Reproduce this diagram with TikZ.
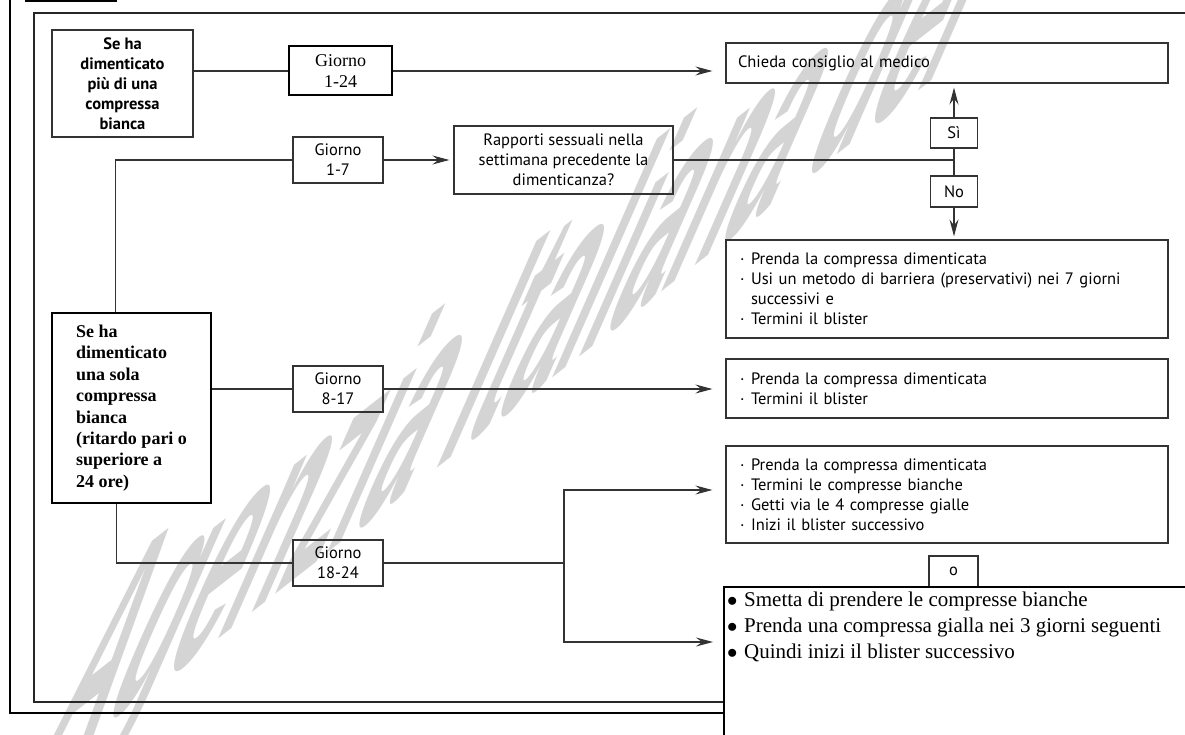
\documentclass[tikz,border=0pt]{standalone}
\usepackage{fontspec}
\setmainfont{Liberation Serif}
\setsansfont{PT Sans}
\newfontfamily\wmfont{Liberation Sans}
\usetikzlibrary{arrows.meta}

\newcommand{\bul}{\hspace{2pt}\makebox[11pt][l]{·}}
\newcommand{\bigbul}{\makebox[17pt][l]{$\bullet$}}

\tikzset{
  ln/.style={draw=black!80, line width=1.2pt},
  arr/.style={ln, -{Stealth[length=17pt,width=9pt,inset=6pt]}},
  sbox/.style={draw=black!80, line width=1.2pt, inner sep=0pt, align=center,
    font=\sffamily\fontsize{16.5}{20}\selectfont},
  lbox/.style={sbox, align=left, text width=418pt, inner xsep=12pt},
  gbox/.style={sbox, minimum width=90pt, minimum height=46pt},
  tbox/.style={draw=black, line width=2pt, inner sep=0pt, align=center,
    font=\rmfamily\fontsize{18}{21.5}\selectfont}
}

\begin{document}
\begin{tikzpicture}[x=1pt,y=-1pt]
  \useasboundingbox (0,0) rectangle (1185,735);
  \clip (0,0) rectangle (1185,735);
  \begin{scope}[cm={0.985,0.77,1.45,3.3,(25,790)}]
    \node[anchor=base west, inner sep=0pt, transform shape, text=black!17,
      font=\wmfont\bfseries\fontsize{100}{100}\selectfont] (wm) {Agenzia Italiana del}; % watermark
  \end{scope}
  \draw[line width=2pt] (25,1) -- (117,1); % title underline
  \draw[line width=2pt] (10,-5) -- (10,713) -- (724,713); % outer frame
  \draw[line width=2.5pt, black!85] (1190,13) -- (34,13) -- (34,702) -- (724,702); % inner frame

  \node[sbox, font=\sffamily\bfseries\fontsize{16.5}{20}\selectfont, minimum width=141pt,
    minimum height=107pt] (more) at (122.5,83.5) {Se ha\\dimenticato\\più di una\\compressa\\bianca};
  \node[tbox, minimum width=103pt, minimum height=49pt] (g124) at (340.5,71) {Giorno\\1-24};
  \node[lbox, minimum height=40pt] (chieda) at (947,63) {Chieda consiglio al medico};
  \node[gbox] (g17) at (338,160) {Giorno\\1-7};
  \node[sbox, minimum width=219pt, minimum height=68pt] (quest) at (563.5,160)
    {Rapporti sessuali nella\\settimana precedente la\\dimenticanza?};
  \node[sbox, minimum width=47pt, minimum height=30pt] (si) at (954,133) {Sì};
  \node[sbox, minimum width=47pt, minimum height=31pt] (no) at (954,191.5) {No};
  \node[lbox, minimum height=98pt] (list1) at (947,289)
    {\bul Prenda la compressa dimenticata\\\bul Usi un metodo di barriera (preservativi) nei 7 giorni\\\hspace*{13pt}successivi e\\\bul Termini il blister};

  \node[tbox, font=\rmfamily\bfseries\fontsize{18}{21.4}\selectfont, align=left,
    minimum width=159pt, minimum height=190pt] (one) at (131.5,408)
    {Se ha\\dimenticato\\una sola\\compressa\\bianca\\(ritardo pari o\\superiore a\\24 ore)};
  \node[gbox] (g817) at (338,389) {Giorno\\8-17};
  \node[lbox, minimum height=59pt] (list2) at (947,388.5)
    {\bul Prenda la compressa dimenticata\\\bul Termini il blister};
  \node[gbox] (g1824) at (338,563) {Giorno\\18-24};
  \node[lbox, minimum height=97pt] (list3) at (947,494.5)
    {\bul Prenda la compressa dimenticata\\\bul Termini le compresse bianche\\\bul Getti via le 4 compresse gialle\\\bul Inizi il blister successivo};
  \node[sbox, minimum width=49pt, minimum height=31pt] (orbox) at (953.5,571.5) {o};

  \coordinate (fork) at (564,563);
  \coordinate (forkup) at (564,490);
  \coordinate (forkdn) at (564,642);

  % last box covers the frames
  \draw[line width=1.5pt, fill=white] (724,587) rectangle (1200,760);
  \node[anchor=north west, align=left, inner xsep=3pt, inner ysep=5pt,
    font=\rmfamily\fontsize{21}{26}\selectfont] (last) at (724,587)
    {\bigbul Smetta di prendere le compresse bianche\\\bigbul Prenda una compressa gialla nei 3 giorni seguenti\\\bigbul Quindi inizi il blister successivo};

  \draw[ln] (more.east |- g124.west) -- (g124.west);
  \draw[arr, shorten >=13pt] (g124.east) -- (chieda.west |- g124.east);
  \draw[ln] (g17.west) -| ([xshift=-16pt]one.north);
  \draw[arr, shorten >=4pt] (g17.east) -- (quest.west);
  \draw[ln] (quest.east) -- (quest.east -| si.south);
  \draw[arr, shorten >=4pt] (si.north) -- (chieda.south -| si.north);
  \draw[ln] (si.south) -- (no.north);
  \draw[arr, shorten >=3pt] (no.south) -- (list1.north -| no.south);
  \draw[ln] (one.east |- g817.west) -- (g817.west);
  \draw[arr, shorten >=13pt] (g817.east) -- (list2.west |- g817.east);
  \draw[ln] ([xshift=-15pt]one.south) |- (g1824.west);
  \draw[ln] (g1824.east) -- (fork);
  \draw[arr, shorten >=13pt] (fork) -- (forkup) -- (list3.west |- forkup);
  \draw[arr, shorten >=11pt] (fork) -- (forkdn) -- (last.west |- forkdn);
\end{tikzpicture}
\end{document}
